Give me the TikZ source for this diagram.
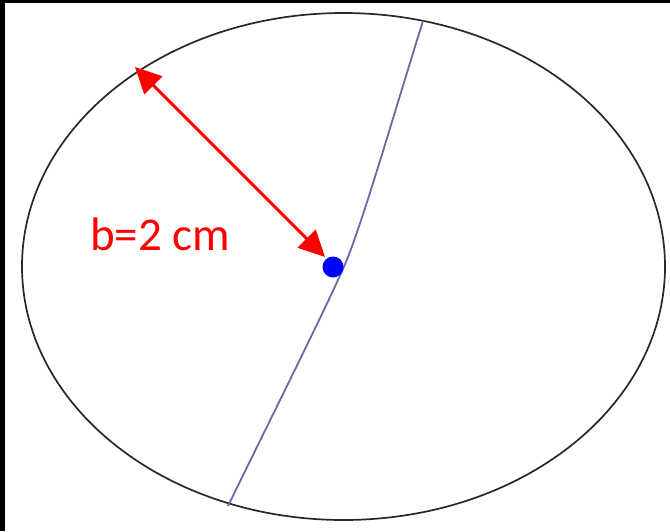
\documentclass[tikz,border=0pt]{standalone}
\usepackage{fontspec}
\setmainfont{Carlito}
\usetikzlibrary{arrows.meta}
\definecolor{redc}{RGB}{255,0,0}
\definecolor{bluec}{RGB}{0,0,255}
\definecolor{linec}{RGB}{105,105,165}
\definecolor{ellc}{RGB}{40,40,40}
\tikzset{
  ellline/.style={draw=ellc,line width=1.7pt},
  axisline/.style={draw=linec,line width=1.8pt},
  measure/.style={draw=redc,line width=3pt,{Triangle[length=26pt,width=25pt]}-{Triangle[length=26pt,width=25pt]}},
  lbl/.style={text=redc,font=\fontsize{47pt}{52pt}\selectfont,inner sep=0pt,anchor=base west}
}
\begin{document}
\begin{tikzpicture}[x=1pt,y=-1pt]
\useasboundingbox (0,0) rectangle (670,531);
\fill[white] (0,0) rectangle (670,531);
\fill[black] (0,0) rectangle (5,531);
\fill[black] (0,0) rectangle (670,3);
\coordinate (c) at (343.5,266.5);
\draw[ellline] (c) ellipse [x radius=321.5, y radius=253.5];
\coordinate (t) at (423,21);
\coordinate (m) at (346,262);
\coordinate (b) at (228,506);
\draw[axisline] (t) .. controls (395,110) and (365,215) .. (m) .. controls (330,300) and (270,420) .. (b);
\node[circle,fill=bluec,inner sep=0pt,minimum size=21pt] (dot) at (333,267) {};
\coordinate (p1) at (135,67);
\coordinate (p2) at (325,257);
\draw[measure] (p1) -- (p2);
\node[lbl] (txt) at (90,250) {b=2 cm};
\end{tikzpicture}
\end{document}
